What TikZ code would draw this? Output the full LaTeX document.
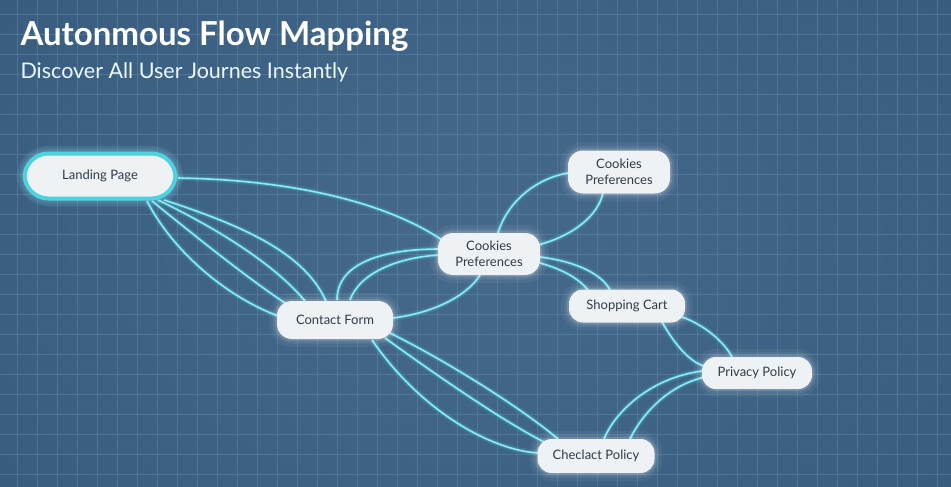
\documentclass[tikz,border=0pt]{standalone}
\usepackage{fontspec}
\setmainfont{Lato}
\usetikzlibrary{calc}
\definecolor{bgmid}{HTML}{46698B}
\definecolor{bgout}{HTML}{375C7F}
\definecolor{gridc}{HTML}{6189AB}
\definecolor{edgec}{HTML}{8CEAF5}
\definecolor{glowc}{HTML}{4FD6E8}
\definecolor{nodefill}{HTML}{EEF2F5}
\definecolor{nodetext}{HTML}{2F3B47}
\definecolor{ringc}{HTML}{4DD2E2}
\pgfdeclarelayer{bg}
\pgfdeclarelayer{edges}
\pgfsetlayers{bg,edges,main}
\begin{document}
\begin{tikzpicture}[x=1pt,y=-1pt,
  page/.style={rounded corners=15pt, fill=nodefill, text=nodetext,
    font=\fontsize{13}{15.5}\selectfont, align=center, inner sep=0pt,
    preaction={draw=white, line width=16pt, opacity=0.05},
    preaction={draw=white, line width=9pt, opacity=0.08},
    preaction={draw=white, line width=4pt, opacity=0.15}},
  link/.style={draw=edgec, line width=1.6pt,
    preaction={draw=glowc, line width=6pt, opacity=0.12},
    preaction={draw=glowc, line width=3.4pt, opacity=0.25}},
  gridline/.style={draw=gridc, line width=0.6pt, opacity=0.5}
]
\useasboundingbox (0,0) rectangle (951,487);
\begin{pgfonlayer}{bg}
  \shade[inner color=bgmid, outer color=bgout] (-150,-200) rectangle (1101,687);
  \foreach \x in {17,37,...,951} \draw[gridline] (\x,0) -- (\x,487);
  \foreach \y in {14,34,...,487} \draw[gridline] (0,\y) -- (951,\y);
\end{pgfonlayer}

\node[anchor=base west, text=white, font=\fontsize{33}{38}\selectfont\bfseries] (title) at (17,46) {Autonmous Flow Mapping};
\node[anchor=base west, text=white!92!cyan, font=\fontsize{21.5}{25}\selectfont] (sub) at (17,78) {Discover All User Journes Instantly};

\node[page, rounded corners=24pt, draw=ringc, line width=4pt, minimum width=151pt, minimum height=45pt,
  preaction={draw=glowc, line width=14pt, opacity=0.12}] (lp) at (100,176) {Landing Page};
\node[page, minimum width=116pt, minimum height=38pt] (cf) at (335,320) {Contact Form};
\node[page, minimum width=102pt, minimum height=42pt] (cpm) at (489,254) {Cookies\\Preferences};
\node[page, minimum width=102pt, minimum height=43pt] (cpt) at (619,172) {Cookies\\Preferences};
\node[page, rounded corners=14pt, minimum width=116pt, minimum height=33pt] (sc) at (627,306) {Shopping Cart};
\node[page, rounded corners=14pt, minimum width=110pt, minimum height=32pt] (pp) at (757,373) {Privacy Policy};
\node[page, rounded corners=14pt, minimum width=117pt, minimum height=34pt] (ck) at (596,456) {Checlact Policy};

\begin{pgfonlayer}{edges}
  % Landing Page
  \draw[link] ($(lp)+(78,2)$) .. controls (300,180) and (390,205) .. ($(cpm)+(-47,-14)$);
  \draw[link] ($(lp)+(47,25)$) .. controls (175,255) and (230,298) .. ($(cf)+(-57,-4)$);
  \draw[link] ($(lp)+(52,25)$) .. controls (200,240) and (250,280) .. ($(cf)+(-47,-15)$);
  \draw[link] ($(lp)+(58,24)$) .. controls (220,230) and (275,265) .. ($(cf)+(-30,-19)$);
  \draw[link] ($(lp)+(64,24)$) .. controls (250,228) and (305,255) .. ($(cf)+(-9,-19)$);
  % Contact Form - Cookies
  \draw[link] ($(cf)+(2,-20)$) .. controls (337,262) and (385,249) .. ($(cpm)+(-49,-5)$);
  \draw[link] ($(cf)+(15,-20)$) .. controls (360,272) and (400,257) .. ($(cpm)+(-49,1)$);
  \draw[link] ($(cf)+(58,-2)$) .. controls (440,312) and (470,292) .. ($(cpm)+(-9,21)$);
  % Cookies - Cookies
  \draw[link] ($(cpm)+(9,-21)$) .. controls (508,200) and (538,178) .. ($(cpt)+(-51,1)$);
  \draw[link] ($(cpm)+(49,-9)$) .. controls (575,235) and (598,215) .. ($(cpt)+(-16,21)$);
  % Cookies - Shopping Cart
  \draw[link] ($(cpm)+(51,3)$) .. controls (580,262) and (603,276) .. ($(sc)+(-17,-16)$);
  \draw[link] ($(cpm)+(51,9)$) .. controls (565,270) and (580,280) .. ($(sc)+(-39,-16)$);
  % Shopping Cart - Privacy
  \draw[link] ($(sc)+(35,16)$) .. controls (675,345) and (690,362) .. ($(pp)+(-53,-7)$);
  \draw[link] ($(sc)+(55,11)$) .. controls (705,325) and (725,343) .. ($(pp)+(-25,-16)$);
  % Privacy - Checkout
  \draw[link] ($(pp)+(-55,-2)$) .. controls (650,378) and (615,412) .. ($(ck)+(8,-17)$);
  \draw[link] ($(pp)+(-52,4)$) .. controls (665,386) and (640,418) .. ($(ck)+(34,-17)$);
  % Contact - Checkout
  \draw[link] ($(cf)+(37,20)$) .. controls (420,410) and (490,450) .. ($(ck)+(-58,-3)$);
  \draw[link] ($(cf)+(50,18)$) .. controls (450,385) and (510,425) .. ($(ck)+(-50,-13)$);
  \draw[link] ($(cf)+(55,13)$) .. controls (460,368) and (530,415) .. ($(ck)+(-38,-17)$);
\end{pgfonlayer}
\end{tikzpicture}
\end{document}
